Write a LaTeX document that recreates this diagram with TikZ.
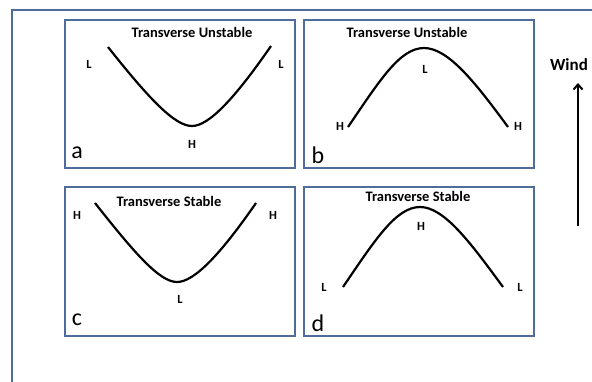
\documentclass[tikz,border=0pt]{standalone}
\usepackage{fontspec}
\setmainfont{Carlito}
\usetikzlibrary{arrows.meta}
\definecolor{frameblue}{RGB}{79,109,155}
\tikzset{
  panel/.style={draw=frameblue, line width=1.6pt},
  curve/.style={draw=black, line width=2.2pt},
  title/.style={font=\bfseries\fontsize{14.5}{16}\selectfont, inner sep=0pt},
  pole/.style={font=\bfseries\fontsize{12.5}{14}\selectfont, inner sep=0pt},
  letter/.style={font=\fontsize{24}{26}\selectfont, inner sep=0pt},
}
\begin{document}
\begin{tikzpicture}[x=1pt, y=-1pt]
\useasboundingbox (0,0) rectangle (592,381);
\clip (0,0) rectangle (592,381);
\fill[white] (0,0) rectangle (592,381);
% outer frame
\draw[panel, line width=1.4pt] (12,10) rectangle (620,400);
% panels
\draw[panel] (65,20) rectangle (295,168);
\draw[panel] (304,20) rectangle (534,168);
\draw[panel] (65,187) rectangle (295,336);
\draw[panel] (304,187) rectangle (534,336);
% titles
\node[title] (ta) at (192,32) {Transverse Unstable};
\node[title] (tb) at (407,32) {Transverse Unstable};
\node[title] (tc) at (169,201) {Transverse Stable};
\node[title] (td) at (418,196) {Transverse Stable};
% panel a
\draw[curve] (108,47) .. controls (150,100) and (175,126) .. (192,126)
  .. controls (209,126) and (235,98) .. (271,46);
\node[pole] (aL1) at (89,64) {L};
\node[pole] (aL2) at (281,64) {L};
\node[pole] (aH) at (192,144) {H};
\node[letter] (la) at (77,153) {a};
% panel b
\draw[curve] (348,127) .. controls (380,80) and (400,48) .. (424,48)
  .. controls (448,48) and (475,82) .. (508,127);
\node[pole] (bH1) at (340,126) {H};
\node[pole] (bL) at (425,69) {L};
\node[pole] (bH2) at (518,126) {H};
\node[letter] (lb) at (318,155) {b};
% panel c
\draw[curve] (95,203) .. controls (136,255) and (160,282) .. (177,282)
  .. controls (194,282) and (220,255) .. (256,203);
\node[pole] (cH1) at (77,215) {H};
\node[pole] (cH2) at (273,215) {H};
\node[pole] (cL) at (180,299) {L};
\node[letter] (lc) at (77,320) {c};
% panel d
\draw[curve] (343,287) .. controls (375,240) and (396,207) .. (420,207)
  .. controls (444,207) and (470,242) .. (503,287);
\node[pole] (dL1) at (324,287) {L};
\node[pole] (dH) at (421,226) {H};
\node[pole] (dL2) at (520,287) {L};
\node[letter] (ld) at (318,323) {d};
% wind
\node[font=\bfseries\fontsize{17}{19}\selectfont, inner sep=0pt] (wind) at (569,65) {Wind};
\coordinate (wbot) at (578,226);
\coordinate (wtop) at (578,83);
\draw[line width=2pt, -{Straight Barb[length=5pt,width=9pt,line width=2pt]}] (wbot) -- (wtop);
\end{tikzpicture}
\end{document}
